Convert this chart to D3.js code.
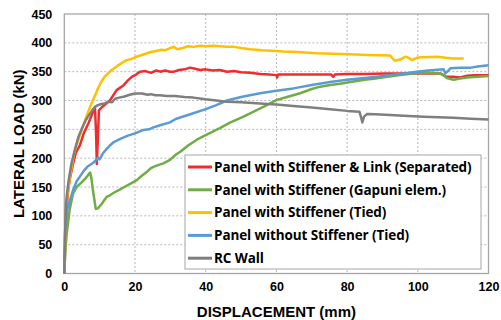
<!DOCTYPE html>
<html>
<head>
<meta charset="utf-8">
<script src="https://cdn.jsdelivr.net/npm/d3@7"></script>
<style>
  body { margin: 0; background: #fff; }
  text { font-family: Arial, "Liberation Sans", sans-serif; }
</style>
</head>
<body>
<div id="chart"></div>
<script>
// values: [displacement (mm), lateral load (kN)]
var separated = [[0,0],[0.4,70],[0.8,125],[1.2,150],[1.6,165],[2.5,191],[3.3,210],[4.4,222],[5.5,243],[6.8,260],[7.6,272],[8.2,282],[8.7,285],[9.0,240],[9.2,190],[9.5,235],[9.8,283],[10.6,288],[11.5,293],[12.9,300],[14.8,318],[16.7,326],[18,335],[19.1,341],[20.3,345],[21.4,350],[23,351],[24.5,348],[26,352],[27.1,350],[28.5,352],[29.9,350],[31,350],[32.5,353],[34,354],[35.6,357],[37,355],[38.4,353],[40,354],[42,352],[44,353],[46,350],[48,351],[50,349],[52.6,348],[55.4,346],[58,345],[60,344],[60.2,340],[60.5,345],[64,345],[68,345],[72.5,345],[75.5,345],[76.1,341],[76.5,345],[80,346],[85,346],[91,347],[95,347],[100,347],[106.3,347],[107.5,343],[108.2,341],[110,341],[112,340],[114,343],[115.8,344],[120,344]];

var gapuni = [[0,0],[0.3,40],[0.7,70],[1.5,110],[2.5,139],[3.5,150],[4.9,158],[6,165],[7.3,175],[7.6,168],[8.2,140],[8.9,112],[9.5,113],[10.5,120],[12,133],[13,136],[14,140],[15.8,146],[17,150],[18.5,155],[20.5,162],[22,170],[23.5,177],[24.3,182],[25.2,185],[26.5,188],[28,191],[29.9,197],[31.5,206],[33,212],[35,222],[37.5,232],[40,240],[42,246],[44,252],[47,262],[50.7,272],[54,282],[57.3,292],[60.1,301],[63,306],[66.7,312.5],[70,320],[72.4,324],[75.2,327],[78,329],[81.8,333],[85,336],[88,338],[91.3,341],[95,344],[98.8,347],[103,348],[106.3,347],[107,345],[108.2,339],[110.1,336],[112,338],[113.9,340],[117,341],[120,342.5]];

var tiedStiff = [[0,0],[0.3,70],[0.6,120],[1.1,148],[1.8,175],[2.5,200],[3.2,218],[4,232],[5,250],[6,268],[6.8,281],[7.5,292],[8.2,302],[9,313],[9.6,322],[10.5,333],[11.5,342],[12.5,348],[13.4,353],[15,360],[16.5,366],[17.7,370],[19,372],[20,375],[21.5,378],[23,381],[24.5,384],[26,386],[27.5,388],[28.5,387],[29.9,391],[31,393],[32,389],[33.5,391],[35,394],[36.5,393],[38.4,395],[40,394],[42,395],[44,394],[46,393],[48,393],[50,391],[52.6,389],[56,387],[60,386],[62,385],[66,384],[71.4,382],[76,381],[80.9,380],[86,379],[92.2,378],[93,372],[93.5,369],[95,371],[96.5,376],[97.5,374],[98.3,370],[99.7,374],[101,375],[105.4,376],[108,374],[110,373],[113,373]];

var tiedNoStiff = [[0,0],[0.1,40],[0.2,70],[0.5,95],[1,115],[1.6,127],[2.5,145],[3.5,160],[4.4,168],[5.5,178],[6.5,185],[8.2,192],[9.6,201],[10,198],[11,209],[12,216],[12.9,222],[14,228],[16,234],[18,239],[20,243],[22.4,249],[24,250],[25,253],[27.1,257],[29.9,262],[31.5,268],[33,271],[36.5,278],[40,285],[43,292],[46,300],[50,306],[55.4,312.5],[60,317],[64.8,321],[70,327],[75.2,332],[80,336],[85,339],[88.4,341],[92,344],[96,347],[99.7,350],[103,352],[107.3,354],[107.8,347],[108.5,351],[109.2,356],[112,357],[115,357],[117,359],[120,361]];

var rcWall = [[0,0],[0.2,60],[0.4,110],[0.7,135],[1.2,160],[2,190],[3,215],[4,237],[5,252],[6,265],[6.8,273],[7.8,282],[8.7,289],[9.5,292],[10.5,294],[11.5,295],[12.5,298],[13.5,297],[14.4,303],[15.5,305],[17,307],[18.5,310],[20,312],[22,312],[23.5,310],[24.5,311],[25.7,309],[27,309],[29,308],[31.3,308],[34,306],[36.5,305],[40,302],[43,300],[46,298],[50,297],[55.4,295],[60,293],[64.8,290.5],[70,288],[75.2,285],[80,282],[83.5,280.5],[84,270],[84.3,262],[84.8,272],[85.6,276.5],[88,276],[92.2,275],[96,273.5],[101.6,272],[106,271],[110,270],[115,268.5],[120,267]];

var seriesNames = ["Panel with Stiffener & Link (Separated)", "Panel with Stiffener (Gapuni elem.)",
                   "Panel with Stiffener (Tied)", "Panel without Stiffener (Tied)", "RC Wall"];
var seriesColors = ["#f02c2c", "#70ad47", "#ffc000", "#5b9bd5", "#7f7f7f"];
var xTicks = [0, 20, 40, 60, 80, 100, 120];
var yTicks = [0, 50, 100, 150, 200, 250, 300, 350, 400, 450];

// set the dimensions and margins of the graph
var margin = {top: 14, right: 12.5, bottom: 46.5, left: 64.3},
    width = 501 - margin.left - margin.right,
    height = 320 - margin.top - margin.bottom;

var svg = d3.select("#chart")
  .append("svg")
    .attr("width", 501)
    .attr("height", 320)
  .append("g")
    .attr("transform", "translate(" + margin.left + "," + margin.top + ")");

var x = d3.scaleLinear().domain([0, 120]).range([0, width]);
var y = d3.scaleLinear().domain([0, 450]).range([height, 0]);

// dotted grid
svg.append("g")
  .selectAll("line")
  .data(yTicks.slice(1, -1))
  .enter().append("line")
    .attr("x1", 0).attr("x2", width)
    .attr("y1", d => y(d)).attr("y2", d => y(d))
    .style("stroke", "#b8b8b8").style("stroke-dasharray", "2,2");
svg.append("g")
  .selectAll("line")
  .data(xTicks.slice(1, -1))
  .enter().append("line")
    .attr("y1", 0).attr("y2", height)
    .attr("x1", d => x(d)).attr("x2", d => x(d))
    .style("stroke", "#b8b8b8").style("stroke-dasharray", "2,2");

// axes
var xAxis = svg.append("g")
    .attr("transform", "translate(0," + height + ")")
    .call(d3.axisBottom(x).tickValues(xTicks).tickSize(0).tickPadding(9));
var yAxis = svg.append("g")
    .call(d3.axisLeft(y).tickValues(yTicks).tickSize(0).tickPadding(12));
[xAxis, yAxis].forEach(function(a) {
  a.select(".domain").remove();
  a.selectAll("text")
    .style("font-family", "Arial, 'Liberation Sans', sans-serif")
    .style("font-size", "12.5px")
    .style("font-weight", "bold")
    .style("fill", "#000");
});

// plot border
svg.append("rect")
    .attr("width", width).attr("height", height)
    .style("fill", "none").style("stroke", "#a6a6a6").style("stroke-width", 1.3);

// curves
var line = d3.line()
    .x(d => x(d[0]))
    .y(d => y(d[1]));

var allSeries = [separated, gapuni, tiedStiff, tiedNoStiff, rcWall];
svg.append("g")
  .selectAll("path")
  .data(allSeries)
  .enter().append("path")
    .attr("d", line)
    .style("fill", "none")
    .style("stroke", (d, i) => seriesColors[i])
    .style("stroke-width", 2.5)
    .style("stroke-linejoin", "round");

// legend
var legend = svg.append("g")
    .attr("transform", "translate(" + (185 - margin.left) + "," + (155 - margin.top) + ")");
legend.append("rect")
    .attr("width", 296).attr("height", 114)
    .style("fill", "#fff").style("stroke", "#a6a6a6").style("stroke-width", 1);
var items = legend.selectAll(".item")
  .data(seriesNames)
  .enter().append("g")
    .attr("class", "item")
    .attr("transform", (d, i) => "translate(0," + (12 + i * 22.8) + ")");
items.append("line")
    .attr("x1", 3).attr("x2", 27)
    .style("stroke", (d, i) => seriesColors[i])
    .style("stroke-width", 3);
items.append("text")
    .attr("x", 29)
    .attr("dy", "0.35em")
    .style("font-family", "'Open Sans', 'Noto Sans', sans-serif")
    .style("font-size", "13.5px")
    .style("font-weight", "bold")
    .style("letter-spacing", "-0.1px")
    .text(d => d);

// axis titles
svg.append("text")
    .attr("x", width / 2)
    .attr("y", height + 43)
    .attr("text-anchor", "middle")
    .style("font-size", "15px")
    .style("font-weight", "bold")
    .text("DISPLACEMENT (mm)");
svg.append("text")
    .attr("transform", "translate(" + (19 - margin.left) + "," + (height / 2) + ") rotate(-90)")
    .attr("text-anchor", "middle")
    .attr("dy", "0.35em")
    .style("font-size", "15px")
    .style("font-weight", "bold")
    .text("LATERAL LOAD (kN)");
</script>
</body>
</html>
